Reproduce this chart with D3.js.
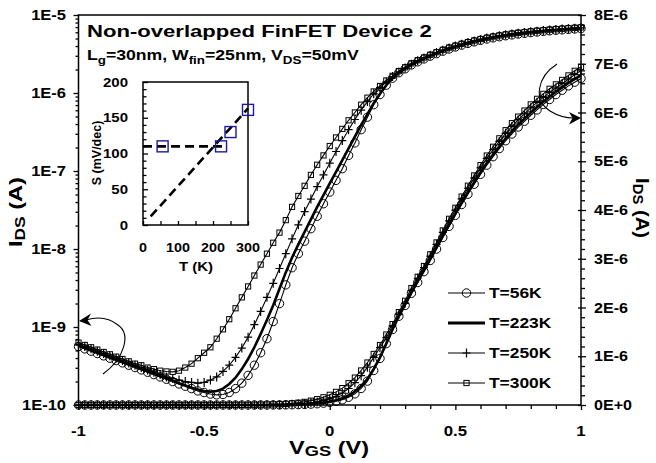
<!DOCTYPE html>
<html><head><meta charset="utf-8">
<script src="https://cdn.jsdelivr.net/npm/d3@7/dist/d3.min.js"></script>
<style>
html,body{margin:0;padding:0;background:#fff}
svg{display:block}
text{font-family:"Liberation Sans",Arial,Helvetica,sans-serif;font-weight:bold;fill:#000}
</style></head><body>
<svg id="chart" width="656" height="463"></svg>
<script>
// ---------- data ----------
const vgs = [-1,-0.975,-0.95,-0.925,-0.9,-0.875,-0.85,-0.825,-0.8,-0.775,
 -0.75,-0.725,-0.7,-0.675,-0.65,-0.625,-0.6,-0.575,-0.55,-0.525,
 -0.5,-0.475,-0.45,-0.425,-0.4,-0.375,-0.35,-0.325,-0.3,-0.275,
 -0.25,-0.225,-0.2,-0.175,-0.15,-0.125,-0.1,-0.075,-0.05,-0.025,
 0,0.025,0.05,0.075,0.1,0.125,0.15,0.175,0.2,0.225,
 0.25,0.275,0.3,0.325,0.35,0.375,0.4,0.425,0.45,0.475,
 0.5,0.525,0.55,0.575,0.6,0.625,0.65,0.675,0.7,0.725,
 0.75,0.775,0.8,0.825,0.85,0.875,0.9,0.925,0.95,0.975,1];

// log10(IDS / A)
const logIds56K = [-9.25,-9.28,-9.31,-9.34,-9.37,-9.40,-9.43,-9.46,-9.49,-9.52,
 -9.55,-9.58,-9.61,-9.64,-9.67,-9.70,-9.73,-9.76,-9.79,-9.82,
 -9.84,-9.86,-9.87,-9.865,-9.84,-9.79,-9.72,-9.62,-9.49,-9.33,
 -9.15,-8.93,-8.70,-8.46,-8.24,-8.06,-7.90,-7.74,-7.58,-7.42,
 -7.27,-7.12,-6.97,-6.80,-6.64,-6.47,-6.31,-6.15,-6.02,-5.90,
 -5.81,-5.74,-5.69,-5.64,-5.60,-5.563,-5.528,-5.495,-5.464,-5.436,
 -5.410,-5.386,-5.364,-5.344,-5.325,-5.308,-5.293,-5.279,-5.266,-5.255,
 -5.244,-5.235,-5.226,-5.218,-5.210,-5.203,-5.196,-5.190,-5.184,-5.179,
 -5.174];
const logIds223K = [-9.24,-9.27,-9.30,-9.33,-9.36,-9.39,-9.42,-9.45,-9.48,-9.51,
 -9.54,-9.57,-9.60,-9.63,-9.66,-9.69,-9.72,-9.75,-9.78,-9.80,
 -9.82,-9.83,-9.82,-9.79,-9.73,-9.65,-9.54,-9.41,-9.26,-9.09,
 -8.91,-8.72,-8.51,-8.30,-8.11,-7.94,-7.78,-7.62,-7.46,-7.31,
 -7.16,-7.01,-6.86,-6.71,-6.56,-6.41,-6.27,-6.13,-6.01,-5.90,
 -5.81,-5.74,-5.685,-5.637,-5.596,-5.559,-5.524,-5.491,-5.460,-5.432,
 -5.406,-5.382,-5.360,-5.340,-5.321,-5.304,-5.289,-5.275,-5.262,-5.251,
 -5.240,-5.231,-5.222,-5.214,-5.206,-5.199,-5.192,-5.186,-5.180,-5.175,
 -5.170];
const logIds250K = [-9.22,-9.25,-9.28,-9.31,-9.34,-9.37,-9.40,-9.43,-9.46,-9.49,
 -9.52,-9.55,-9.58,-9.61,-9.64,-9.66,-9.68,-9.70,-9.71,-9.72,
 -9.71,-9.68,-9.64,-9.57,-9.49,-9.39,-9.27,-9.13,-8.97,-8.80,
 -8.62,-8.44,-8.25,-8.06,-7.87,-7.69,-7.52,-7.36,-7.20,-7.05,
 -6.90,-6.75,-6.61,-6.47,-6.34,-6.22,-6.11,-6.01,-5.93,-5.86,
 -5.79,-5.73,-5.68,-5.63,-5.585,-5.55,-5.515,-5.482,-5.451,-5.423,
 -5.398,-5.374,-5.352,-5.332,-5.313,-5.296,-5.281,-5.267,-5.254,-5.243,
 -5.233,-5.224,-5.215,-5.207,-5.200,-5.193,-5.187,-5.181,-5.175,-5.169,
 -5.164];
const logIds300K = [-9.20,-9.23,-9.26,-9.29,-9.32,-9.35,-9.38,-9.41,-9.44,-9.47,
 -9.49,-9.52,-9.54,-9.56,-9.57,-9.575,-9.56,-9.52,-9.47,-9.40,
 -9.33,-9.26,-9.15,-9.03,-8.90,-8.76,-8.62,-8.48,-8.34,-8.20,
 -8.06,-7.92,-7.79,-7.63,-7.46,-7.32,-7.19,-7.05,-6.92,-6.80,
 -6.68,-6.57,-6.46,-6.35,-6.25,-6.15,-6.06,-5.98,-5.91,-5.84,
 -5.78,-5.72,-5.67,-5.62,-5.58,-5.545,-5.51,-5.477,-5.446,-5.418,
 -5.393,-5.369,-5.347,-5.327,-5.308,-5.291,-5.276,-5.262,-5.249,-5.238,
 -5.228,-5.219,-5.210,-5.202,-5.195,-5.188,-5.182,-5.176,-5.170,-5.164,
 -5.159];

const seriesNames = ["T=56K","T=223K","T=250K","T=300K"];

const xTickValues = [-1,-0.5,0,0.5,1];
const xTickLabels = ["-1","-0.5","0","0.5","1"];
const leftTickValues = [1e-10,1e-9,1e-8,1e-7,1e-6,1e-5];
const leftTickLabels = ["1E-10","1E-9","1E-8","1E-7","1E-6","1E-5"];
const rightTickValues = [0,1e-6,2e-6,3e-6,4e-6,5e-6,6e-6,7e-6,8e-6];
const rightTickLabels = ["0E+0","1E-6","2E-6","3E-6","4E-6","5E-6","6E-6","7E-6","8E-6"];

// inset: subthreshold swing vs temperature
const insetT = [56,223,250,300];
const insetS = [110,110,130,161];
const insetFlatT = [0,240];
const insetFlatS = [110,110];
const insetFitT = [22,300];
const insetFitS = [12,163];
const insetXTickValues = [0,100,200,300];
const insetXTickLabels = ["0","100","200","300"];
const insetYTickValues = [0,50,100,150,200];
const insetYTickLabels = ["0","50","100","150","200"];

// ---------- drawing ----------
const svg = d3.select("#chart");
const X0 = 78.5, X1 = 581, YB = 405, YT = 15;
const x = d3.scaleLinear().domain([-1,1]).range([X0,X1]);
const yL = d3.scaleLog().domain([1e-10,1e-5]).range([YB,YT]);
const yR = d3.scaleLinear().domain([0,8e-6]).range([YB,YT]);

function stext(g, px, py, parts, size, opts) {
  opts = opts || {};
  const t = g.append("text").attr("font-size", size)
    .attr("text-anchor", opts.anchor || "start");
  let shift = 0;
  parts.forEach(p => {
    const s = typeof p === "string" ? {t:p} : p;
    const ts = t.append("tspan").text(s.t);
    const want = s.sub ? (opts.subShift || 4) : 0;
    if (want !== shift) { ts.attr("dy", want - shift); shift = want; }
    if (s.sub) ts.attr("font-size", opts.subSize || size*0.72);
  });
  if (opts.dy) t.attr("dy", opts.dy);
  let sx = opts.sx || 1;
  if (opts.width) sx = opts.width / t.node().getComputedTextLength();
  t.attr("transform", `translate(${px},${py}) rotate(${opts.rot||0}) scale(${sx},1)`);
  return t;
}

function styleAxis(g){ g.select(".domain").remove(); g.selectAll("line").attr("stroke","#000").attr("stroke-width",1.3); g.selectAll("text").remove(); }

const xMinor = [];
for (let k=-9;k<=9;k++){ if (k%5!==0) xMinor.push(k/10); }
svg.append("g").attr("transform",`translate(0,${YB})`)
  .call(d3.axisBottom(x).tickValues(xTickValues).tickSize(5)).call(styleAxis);
svg.append("g").attr("transform",`translate(0,${YB})`)
  .call(d3.axisBottom(x).tickValues(xMinor).tickSize(4)).call(styleAxis);

const leftMinor = [];
for (let e=-10;e<-5;e++) for (let m=2;m<=9;m++) leftMinor.push(m*Math.pow(10,e));
svg.append("g").attr("transform",`translate(${X0},0)`)
  .call(d3.axisLeft(yL).tickValues(leftTickValues).tickSize(5)).call(styleAxis);
svg.append("g").attr("transform",`translate(${X0},0)`)
  .call(d3.axisLeft(yL).tickValues(leftMinor).tickSize(3)).call(styleAxis);

const rightMinor = [];
for (let k=1;k<40;k++){ if (k%5!==0) rightMinor.push(k*0.2e-6); }
svg.append("g").attr("transform",`translate(${X1},0)`)
  .call(d3.axisRight(yR).tickValues(rightTickValues).tickSize(5)).call(styleAxis);
svg.append("g").attr("transform",`translate(${X1},0)`)
  .call(d3.axisLeft(yR).tickValues(rightTickValues).tickSize(3)).call(styleAxis);
svg.append("g").attr("transform",`translate(${X1},0)`)
  .call(d3.axisRight(yR).tickValues(rightMinor).tickSize(4)).call(styleAxis);

svg.append("rect").attr("x",X0).attr("y",YT).attr("width",X1-X0).attr("height",YB-YT)
  .attr("fill","none").attr("stroke","#000").attr("stroke-width",1.5);

const lab = svg.append("g");
leftTickValues.forEach((v,i)=> stext(lab, 66, yL(v), [leftTickLabels[i]], 14, {anchor:"end", dy:"0.36em", sx:1.18}));
rightTickValues.forEach((v,i)=> stext(lab, 594, yR(v), [rightTickLabels[i]], 14, {anchor:"start", dy:"0.36em", sx:1.15}));
xTickValues.forEach((v,i)=> stext(lab, x(v), 431, [xTickLabels[i]], 14, {anchor:"middle", dy:"0.36em", sx:1.2}));

stext(lab, 329, 454, ["V", {t:"GS",sub:true}, " (V)"], 18, {anchor:"middle", width:80, subSize:14, subShift:2});
stext(lab, 22, 212, ["I", {t:"DS",sub:true}, " (A)"], 19, {anchor:"middle", rot:-90, width:70, subSize:14, subShift:3});
stext(lab, 636, 208, ["I", {t:"DS",sub:true}, " (A)"], 19, {anchor:"middle", rot:90, width:60, subSize:14, subShift:3});

stext(lab, 87, 37, ["Non-overlapped FinFET Device 2"], 17, {width:345});
stext(lab, 87, 60, ["L", {t:"g",sub:true}, "=30nm, W", {t:"fin",sub:true}, "=25nm, V", {t:"DS",sub:true}, "=50mV"], 14.5, {width:272, subSize:11, subShift:4});

const series = [
  {name:seriesNames[0], vals:logIds56K, marker:"circle", w:1.1},
  {name:seriesNames[1], vals:logIds223K, marker:null, w:2.6},
  {name:seriesNames[2], vals:logIds250K, marker:"plus", w:1.1},
  {name:seriesNames[3], vals:logIds300K, marker:"square", w:1.1}
];
const lineLog = d3.line().x((d,i)=>x(vgs[i])).y(d=>yL(Math.pow(10,d)));
const lineLin = d3.line().x((d,i)=>x(vgs[i])).y(d=>yR(Math.pow(10,d)));

function drawMarker(g, type, cx, cy){
  if (type==="circle") g.append("circle").attr("cx",cx).attr("cy",cy).attr("r",4.2)
      .attr("fill","none").attr("stroke","#000").attr("stroke-width",1);
  else if (type==="plus") g.append("path").attr("d",`M${cx-4},${cy}H${cx+4}M${cx},${cy-4.5}V${cy+4.5}`)
      .attr("stroke","#000").attr("stroke-width",1.2).attr("fill","none");
  else if (type==="square") g.append("rect").attr("x",cx-2.6).attr("y",cy-2.6).attr("width",5.2).attr("height",5.2)
      .attr("fill","none").attr("stroke","#000").attr("stroke-width",1);
}

const curves = svg.append("g");
series.forEach(s=>{
  curves.append("path").attr("d",lineLog(s.vals)).attr("fill","none").attr("stroke","#000").attr("stroke-width",s.w);
  curves.append("path").attr("d",lineLin(s.vals)).attr("fill","none").attr("stroke","#000").attr("stroke-width",s.w);
});
series.forEach(s=>{
  if (!s.marker) return;
  const g = curves.append("g");
  s.vals.forEach((v,i)=>{
    drawMarker(g, s.marker, x(vgs[i]), yL(Math.pow(10,v)));
    drawMarker(g, s.marker, x(vgs[i]), yR(Math.pow(10,v)));
  });
});

const legY = [293,323,353,383];
const leg = svg.append("g");
series.forEach((s,i)=>{
  leg.append("line").attr("x1",448).attr("x2",485).attr("y1",legY[i]).attr("y2",legY[i])
    .attr("stroke","#000").attr("stroke-width", s.w===2.6 ? 3 : 1.1);
  if (s.marker) drawMarker(leg, s.marker, 466.5, legY[i]);
  stext(leg, 489, legY[i], [s.name], 14.5, {dy:"0.36em", sx:1.2});
});

const arr = svg.append("g");
arr.append("path").attr("d","M103,374 C125,358 131,334 118,325 C108,317 96,317 86,320")
  .attr("fill","none").attr("stroke","#000").attr("stroke-width",1.1);
arr.append("path").attr("d","M79,321 L91,313.5 L87.5,320 L91.5,326 Z").attr("fill","#000");
arr.append("path").attr("d","M557,64 C537,77 533,100 550,111 C558,116 566,118 574,118")
  .attr("fill","none").attr("stroke","#000").attr("stroke-width",1.1);
arr.append("path").attr("d","M581,118 L569,112 L572.5,118 L569,124.5 Z").attr("fill","#000");

// ---------- inset ----------
const ix = d3.scaleLinear().domain([0,300]).range([143,248]);
const iy = d3.scaleLinear().domain([0,200]).range([225,82]);
const ins = svg.append("g");
ins.append("rect").attr("x",143).attr("y",82).attr("width",105).attr("height",143)
  .attr("fill","#fff").attr("stroke","#000").attr("stroke-width",1.5);
const iyMinor=[]; for(let k=1;k<20;k++){ if(k%5!==0) iyMinor.push(k*10); }
ins.append("g").attr("transform","translate(143,0)")
  .call(d3.axisRight(iy).tickValues(insetYTickValues).tickSize(5)).call(styleAxis);
ins.append("g").attr("transform","translate(143,0)")
  .call(d3.axisRight(iy).tickValues(iyMinor).tickSize(3.5)).call(styleAxis);
ins.append("g").attr("transform","translate(0,225)")
  .call(d3.axisTop(ix).tickValues([0,50,100,150,200,250,300]).tickSize(4)).call(styleAxis);
insetYTickValues.forEach((v,i)=> stext(ins, 128, iy(v), [insetYTickLabels[i]], 12.5, {anchor:"end", dy:"0.36em", sx:1.2}));
insetXTickValues.forEach((v,i)=> stext(ins, ix(v), 247, [insetXTickLabels[i]], 12.5, {anchor:"middle", dy:"0.36em", sx:1.15}));
stext(ins, 96, 153, ["S (mV/dec)"], 12.5, {anchor:"middle", rot:-90, dy:"0.36em", sx:1.0});
stext(ins, 196, 266, ["T (K)"], 12.5, {anchor:"middle", dy:"0.36em", sx:1.2});

const iline = d3.line().x(d=>ix(d[0])).y(d=>iy(d[1]));
ins.append("path").attr("d", iline(d3.zip(insetFlatT, insetFlatS)))
  .attr("fill","none").attr("stroke","#000").attr("stroke-width",2.6).attr("stroke-dasharray","9,5");
ins.append("path").attr("d", iline(d3.zip(insetFitT, insetFitS)))
  .attr("fill","none").attr("stroke","#000").attr("stroke-width",2.6).attr("stroke-dasharray","9,5");
insetT.forEach((t,i)=>{
  ins.append("rect").attr("x",ix(t)-5.5).attr("y",iy(insetS[i])-5.5).attr("width",11).attr("height",11)
    .attr("fill","none").attr("stroke","#1a1a9c").attr("stroke-width",1.4);
});
</script>
</body></html>
